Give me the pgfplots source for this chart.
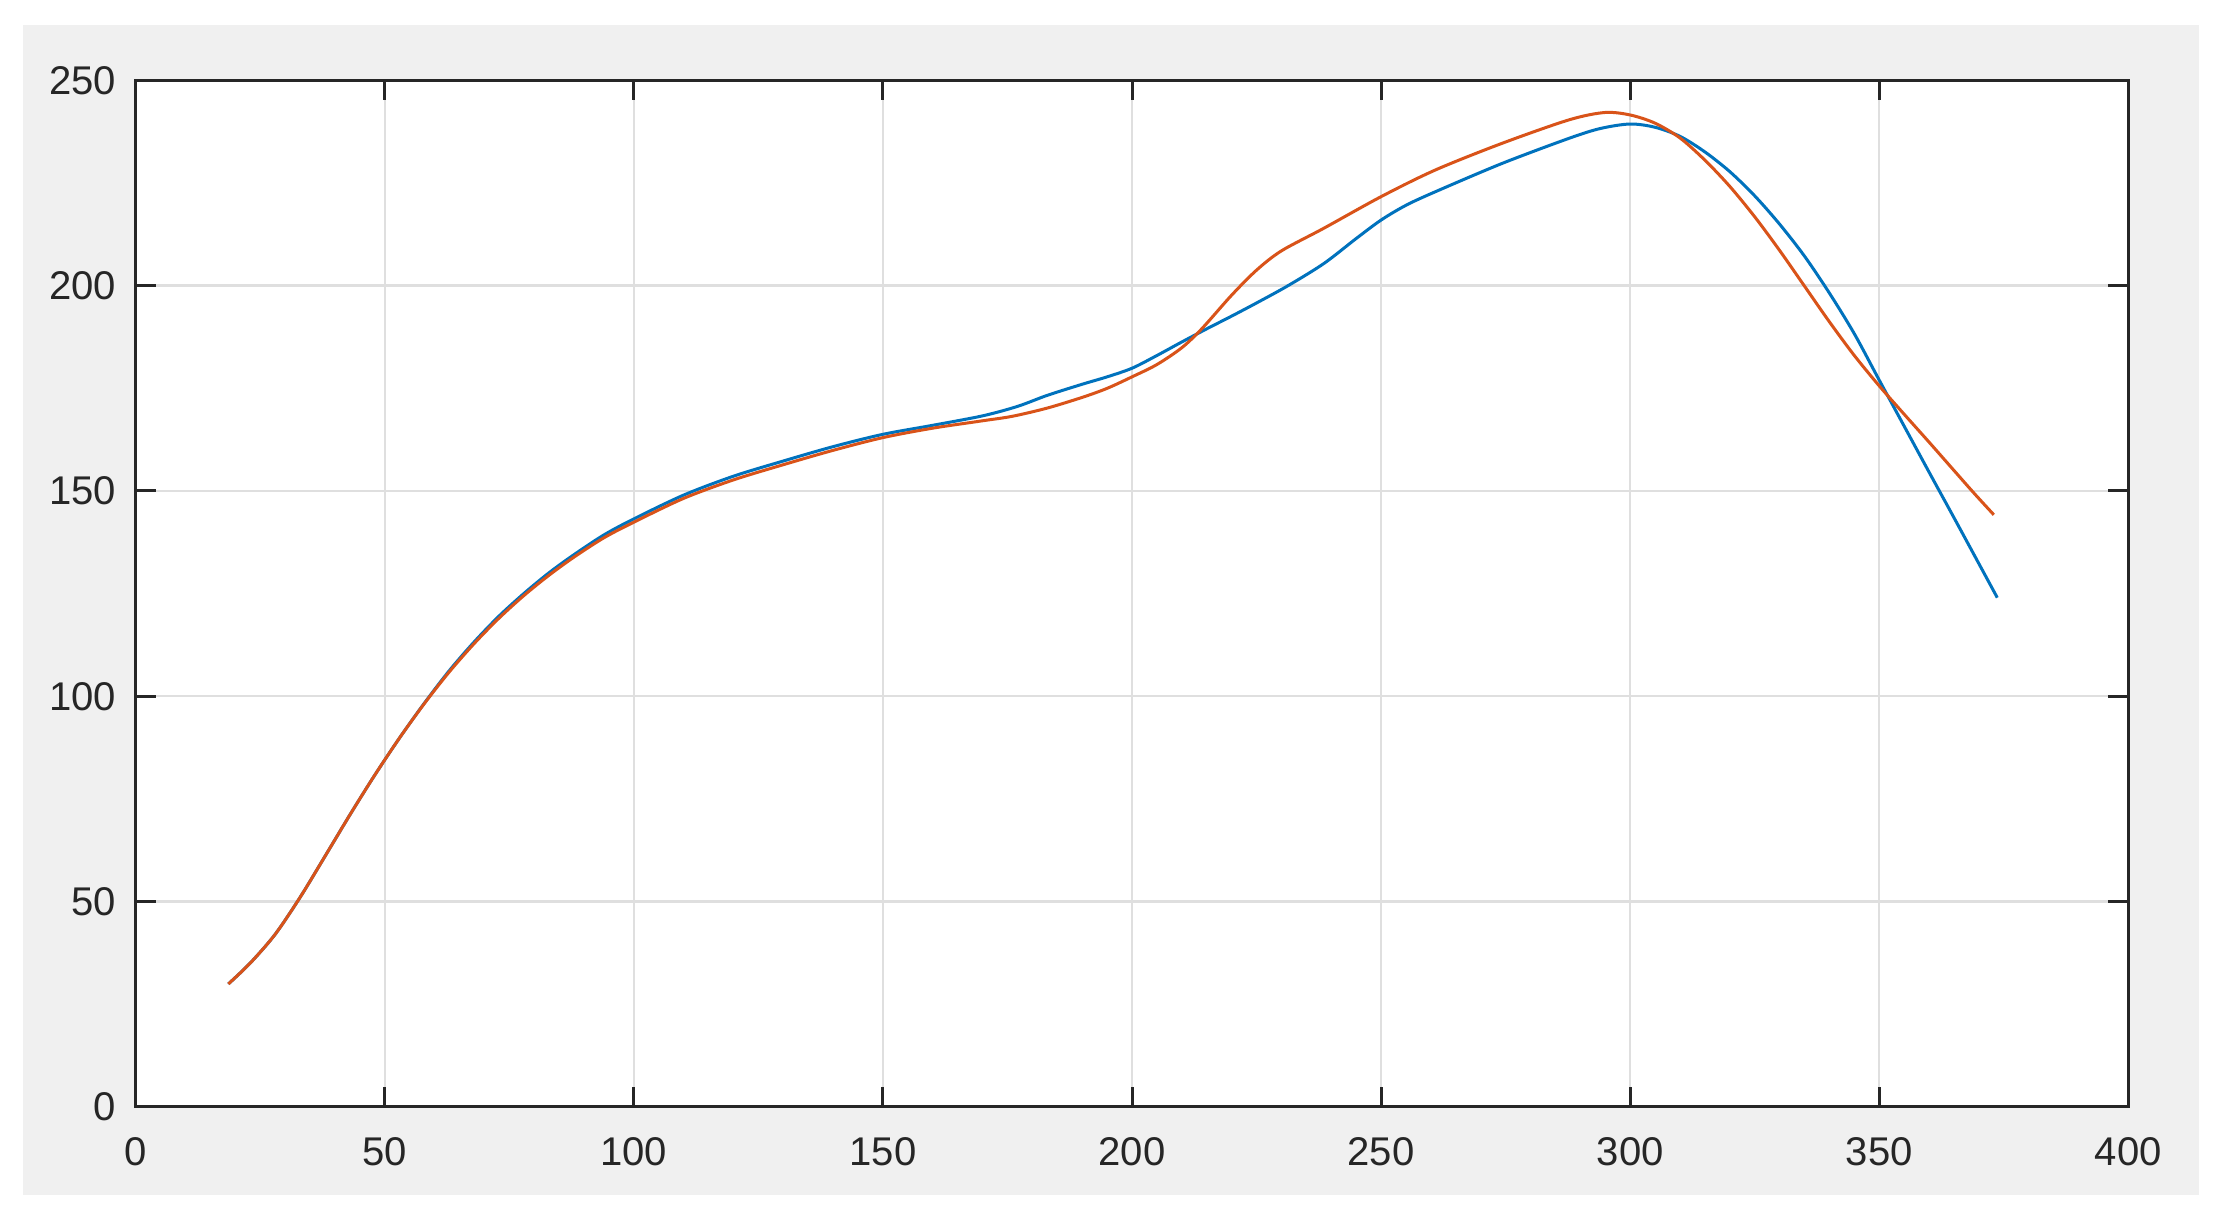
\documentclass[border=0pt]{standalone}
\usepackage{pgfplots}
\pgfplotsset{compat=1.18}
\usepackage{fontspec}
\setmainfont{Liberation Sans}
\usetikzlibrary{backgrounds,calc}
\definecolor{mblue}{rgb}{0,0.447,0.741}
\definecolor{morange}{rgb}{0.85,0.325,0.098}
\definecolor{maxis}{rgb}{0.15,0.15,0.15}
\definecolor{mgrid}{RGB}{223,223,223}
\definecolor{mfig}{RGB}{240,240,240}

\begin{document}
\begin{tikzpicture}
\begin{axis}[name=ax, at={(0,0)}, anchor=south west,
  scale only axis, width=199.26mm, height=102.62mm,
  xmin=0, xmax=400, ymin=0, ymax=250,
  xtick={0,50,...,400}, ytick={0,50,...,250},
  grid=major, major grid style={mgrid, line width=0.25mm},
  axis line style={maxis, line width=0.3mm},
  tick align=inside, major tick length=2mm,
  tick style={maxis, line width=0.3mm},
  axis background/.style={fill=white},
  ticklabel style={font=\fontsize{11.4}{13}\selectfont, text=maxis, inner sep=0pt},
  xticklabel shift=3mm, yticklabel shift=1.9mm,
  /pgf/number format/assume math mode=true,
  every axis plot/.append style={line width=0.3mm, smooth}]
% blue series
\addplot[mblue] coordinates {
(18.6,29.9)(23,35.0)(28,42.0)(33,51.0)(38,61.0)(43,71.1)(48,80.8)(53,89.9)
(58,98.4)(63,106.3)(68,113.3)(73,119.6)(78,125.1)(83,130.1)(88,134.5)
(94,139.3)(100,143.2)(110,149.0)(120,153.6)(130,157.3)(140,160.8)(150,163.8)
(160,166.0)(170,168.3)(177,170.6)(183,173.3)(190,176.0)(195,177.8)(200,179.9)
(205,183.0)(210,186.3)(215,189.5)(220,192.6)(225,195.8)(231.3,200)(238.5,205.4)
(245,211.5)(250,216.0)(255,219.6)(260.9,222.9)(274.3,229.8)(287.7,235.9)
(294,238.3)(300,239.4)(305,238.6)(310,236.4)(315,232.6)(320,227.8)(325,221.9)
(330,215.0)(335,207.2)(340,198.2)(345,188.3)(350,177.0)(355,165.8)(360,154.6)
(365,143.5)(370,132.3)(373.7,124.0)};
% orange series
\addplot[morange] coordinates {
(18.6,29.9)(23,35.0)(28,42.0)(33,51.0)(38,61.0)(43,71.1)(48,80.8)(53,89.9)
(58,98.3)(63,106.0)(68,112.9)(73,119.1)(78,124.6)(83,129.5)(88,133.9)
(94,138.6)(100,142.4)(110,148.2)(120,152.7)(130,156.4)(140,159.9)(150,163.0)
(160,165.3)(170,167.1)(176,168.2)(183,170.2)(190,172.8)(195,175.0)(200,177.8)
(205,180.8)(210,184.9)(214,189.5)(220,197.7)(225,203.8)(230,208.5)(238.5,214)
(250,221.7)(260.9,228.2)(274.3,234.7)(287.7,240.4)(294.9,242.2)(300,241.6)
(305,239.6)(310,236.0)(315,230.6)(320,224.2)(325,216.8)(330,208.6)(335,199.9)
(340,191.2)(345,183.0)(350,175.6)(355,168.7)(360,161.9)(365,155.0)(369,149.5)
(373,144.2)};
\end{axis}
\begin{scope}[on background layer]
\fill[white] ($(ax.south west)+(-13.57mm,-11.13mm)$) rectangle ++(222.2mm,121.8mm);
\fill[mfig] ($(ax.south west)+(-11.27mm,-8.83mm)$) rectangle ($(ax.south west)+(206.33mm,108.17mm)$);
\end{scope}
\end{tikzpicture}
\end{document}
